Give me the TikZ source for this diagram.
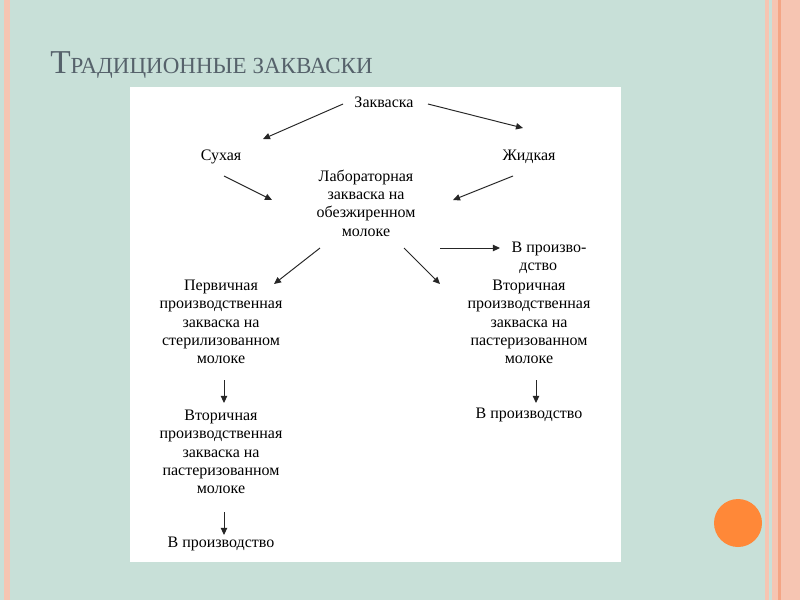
\documentclass[tikz,border=0pt]{standalone}
\usepackage{fontspec}
\setmainfont{Liberation Serif}
\newfontfamily\diagfont{Liberation Serif}
\usetikzlibrary{arrows.meta}
\definecolor{bg}{HTML}{C8E0D8}
\definecolor{salmon}{HTML}{F6C5B2}
\definecolor{rust}{HTML}{F4A585}
\definecolor{dot}{HTML}{FF8838}
\definecolor{slate}{HTML}{56626B}
\definecolor{ink}{HTML}{262626}

\begin{document}
\begin{tikzpicture}[x=.02cm,y=-.02cm,
 txt/.style={align=center,inner sep=0pt,font=\diagfont\fontsize{9.1}{10.4}\selectfont,text=black},
 arr/.style={-{Triangle[length=4pt,width=3.6pt]},line width=.55pt,draw=ink},
 title/.style={anchor=base west,inner sep=0pt,text=slate,font=\fontsize{13.1}{14}\selectfont}]
\fill[bg] (0,0) rectangle (800,600);
\path[use as bounding box] (0,0) rectangle (800,600);
% slide frame: thin stripe left, band on the right, orange dot
\fill[salmon] (4,0) rectangle (10,600);
\fill[salmon] (765,0) rectangle (769,600);
\fill[salmon] (772,0) rectangle (800,600);
\fill[rust] (778,0) rectangle (781,600);
\fill[dot] (738,523) circle[radius=.48cm];
\node[title] (ttl) at (50,73) {{\fontsize{19}{19}\selectfont Т}РАДИЦИОННЫЕ ЗАКВАСКИ};
\fill[white] (130,87) rectangle (621,562);

\node[txt] (zakv) at (384,102) {Закваска};
\node[txt] (suh) at (221,157) {Сухая};
\node[txt] (zhid) at (529,157) {Жидкая};
\node[txt] (lab) at (366,203) {Лабораторная\\закваска на\\обезжиренном\\молоке};
\node[txt,align=left] (prodA) at (549,258) {В произво-\\\hspace{4.5pt}дство};
\node[txt] (perv) at (221,322) {Первичная\\производственная\\закваска на\\стерилизованном\\молоке};
\node[txt] (vtorR) at (529,322) {Вторичная\\производственная\\закваска на\\пастеризованном\\молоке};
\node[txt] (vtorL) at (221,452) {Вторичная\\производственная\\закваска на\\пастеризованном\\молоке};
\node[txt] (prodL) at (221,544) {В производство};
\node[txt] (prodR) at (529,415) {В производство};

\draw[arr] ([shift={(-41,2)}]zakv.center)--([shift={(42,-18)}]suh.center);
\draw[arr] ([shift={(44,2)}]zakv.center)--([shift={(-6,-29)}]zhid.center);
\draw[arr] ([shift={(3,19)}]suh.center)--([shift={(-94,-3)}]lab.center);
\draw[arr] ([shift={(-16,19)}]zhid.center)--([shift={(87,-3)}]lab.center);
\draw[arr] ([shift={(-46,45)}]lab.center)--([shift={(53,-38)}]perv.center);
\draw[arr] ([shift={(38,45)}]lab.center)--([shift={(-89,-38)}]vtorR.center);
\draw[arr] ([shift={(74,45)}]lab.center)--([shift={(-49,-10)}]prodA.center);
\draw[arr] ([shift={(3,58)}]perv.center)--([shift={(3,-49)}]vtorL.center);
\draw[arr] ([shift={(3,60)}]vtorL.center)--([shift={(3,-9)}]prodL.center);
\draw[arr] ([shift={(7,58)}]vtorR.center)--([shift={(7,-12)}]prodR.center);
\end{tikzpicture}
\end{document}
